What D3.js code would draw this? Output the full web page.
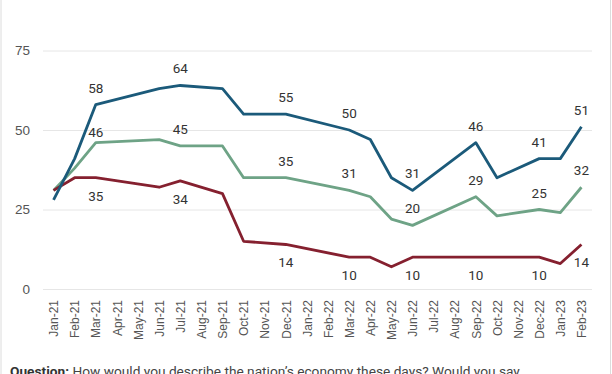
<!DOCTYPE html>
<html>
<head>
<meta charset="utf-8">
<script src="https://cdn.jsdelivr.net/npm/d3@7"></script>
<style>
  body { margin: 0; background: #fff; }
  svg { display: block; font-family: Roboto, "Noto Sans", sans-serif; }
</style>
</head>
<body>
<svg id="chart"></svg>
<script>
// every month on the axis
const months = ["Jan-21","Feb-21","Mar-21","Apr-21","May-21","Jun-21","Jul-21","Aug-21","Sep-21",
  "Oct-21","Nov-21","Dec-21","Jan-22","Feb-22","Mar-22","Apr-22","May-22","Jun-22","Jul-22",
  "Aug-22","Sep-22","Oct-22","Nov-22","Dec-22","Jan-23","Feb-23"];

// months that have a survey reading
const surveyMonths = ["Jan-21","Feb-21","Mar-21","Jun-21","Jul-21","Sep-21","Oct-21","Dec-21",
  "Mar-22","Apr-22","May-22","Jun-22","Sep-22","Oct-22","Dec-22","Jan-23","Feb-23"];

const blueVals  = [28, 41, 58, 63, 64, 63, 55, 55, 50, 47, 35, 31, 46, 35, 41, 41, 51];
const greenVals = [31, 38, 46, 47, 45, 45, 35, 35, 31, 29, 22, 20, 29, 23, 25, 24, 32];
const redVals   = [31, 35, 35, 32, 34, 30, 15, 14, 10, 10,  7, 10, 10, 10, 10,  8, 14];

const labelMonths = ["Mar-21","Jul-21","Dec-21","Mar-22","Jun-22","Sep-22","Dec-22","Feb-23"];
const yTicks = [0, 25, 50, 75];

const W = 612, H = 374;
const svg = d3.select("#chart").attr("width", W).attr("height", H);

const x = d3.scalePoint().domain(months).range([43, 592]).padding(0.5);
const y = d3.scaleLinear().domain([0, 75]).range([289, 50.5]);

// frame lines
svg.append("line").attr("x1", 1).attr("x2", 1).attr("y1", 0).attr("y2", H)
  .attr("stroke", "#dcdcdc").attr("stroke-width", 1);
svg.append("line").attr("x1", 610.5).attr("x2", 610.5).attr("y1", 0).attr("y2", H)
  .attr("stroke", "#dcdcdc").attr("stroke-width", 1);

// grid + y labels
const yAxis = svg.append("g").attr("transform", "translate(43,0)")
  .call(d3.axisLeft(y).tickValues(yTicks).tickSize(-549).tickPadding(13));
yAxis.select(".domain").remove();
yAxis.selectAll(".tick line").attr("stroke", "#e6e6e6");
yAxis.selectAll(".tick text").attr("fill", "#555").attr("font-size", 13.5);

// x labels
const xAxis = svg.append("g").attr("transform", "translate(0,289)")
  .call(d3.axisBottom(x).tickSize(0).tickPadding(0));
xAxis.select(".domain").remove();
xAxis.selectAll(".tick text")
  .attr("fill", "#555").attr("font-size", 12)
  .attr("text-anchor", "end")
  .attr("transform", "rotate(-90)")
  .attr("x", -11).attr("y", 0).attr("dy", "0.35em");

const series = [
  { vals: greenVals, color: "#6ea386", pos: "above" },
  { vals: redVals,   color: "#85202f", pos: "below" },
  { vals: blueVals,  color: "#1b5a7a", pos: "above" }
];

const line = d3.line().x((d, i) => x(surveyMonths[i])).y(d => y(d));

series.forEach(s => {
  svg.append("path").datum(s.vals)
    .attr("d", line).attr("fill", "none")
    .attr("stroke", s.color).attr("stroke-width", 2.8)
    .attr("stroke-linejoin", "round");
});

series.forEach(s => {
  const pts = s.vals.map((v, i) => ({ m: surveyMonths[i], v }))
    .filter(d => labelMonths.includes(d.m));
  svg.append("g").selectAll("text").data(pts).enter().append("text")
    .attr("x", d => x(d.m))
    .attr("y", d => {
      if (s.pos === "below") return y(d.v) + 23;
      if (s.color === "#6ea386" && d.m === "Mar-21") return y(d.v) - 6;
      return y(d.v) - 12;
    })
    .attr("text-anchor", "middle")
    .attr("font-size", 13.5).attr("fill", "#333")
    .text(d => d.v);
});

// question note, cut by the bottom edge
const q = svg.append("text").attr("x", 10).attr("y", 375.5)
  .attr("font-size", 13.7).attr("fill", "#444");
q.append("tspan").attr("font-weight", "bold").attr("fill", "#333").text("Question:");
q.append("tspan").text(" How would you describe the nation\u2019s economy these days? Would you say...");
</script>
</body>
</html>
